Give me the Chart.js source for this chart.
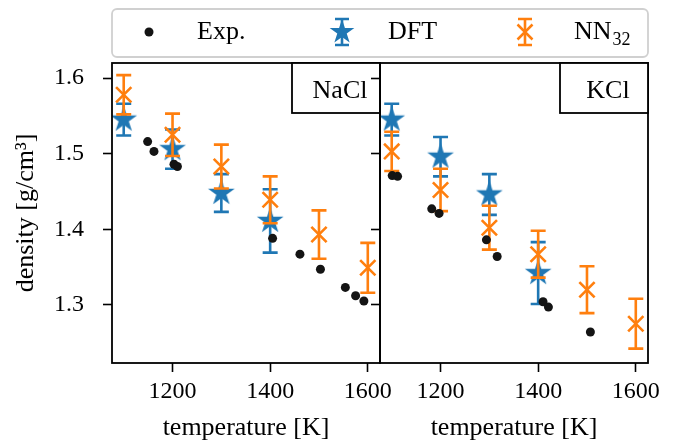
<!DOCTYPE html>
<html lang="en">
  <head>
    <meta charset="UTF-8" />
    <title>Density vs temperature</title>
    <script src="https://cdn.jsdelivr.net/npm/chart.js"></script>
    <style>
      body { margin: 0; background: #fff; }
      .wrap { position: relative; width: 678px; height: 444px; }
      .wrap canvas { position: absolute; left: 0; top: 0; }
    </style>
  </head>
  <body>
    <div class="wrap">
      <canvas id="nacl" width="678" height="444"></canvas>
      <canvas id="kcl" width="678" height="444"></canvas>
    </div>

    <script>
      "use strict";
      // NaCl
      const naclExpT = [1149, 1162, 1203, 1210, 1405, 1461, 1503, 1554, 1575, 1592];
      const naclExpRho = [1.516, 1.503, 1.486, 1.483, 1.388, 1.367, 1.347, 1.323, 1.312, 1.305];
      const naclDftT = [1100, 1200, 1300, 1400];
      const naclDftRho = [1.545, 1.506, 1.448, 1.411];
      const naclDftErr = [0.021, 0.026, 0.025, 0.042];
      const naclNnT = [1100, 1200, 1300, 1400, 1500, 1600];
      const naclNnRho = [1.578, 1.525, 1.483, 1.439, 1.393, 1.349];
      const naclNnErr = [0.026, 0.028, 0.029, 0.031, 0.032, 0.033];

      // KCl
      const kclExpT = [1101, 1112, 1182, 1197, 1294, 1316, 1410, 1421, 1507];
      const kclExpRho = [1.471, 1.470, 1.427, 1.421, 1.386, 1.364, 1.304, 1.297, 1.264];
      const kclDftT = [1100, 1200, 1300, 1400];
      const kclDftRho = [1.545, 1.496, 1.446, 1.342];
      const kclDftErr = [0.021, 0.026, 0.027, 0.041];
      const kclNnT = [1100, 1200, 1300, 1400, 1500, 1600];
      const kclNnRho = [1.503, 1.452, 1.402, 1.367, 1.320, 1.275];
      const kclNnErr = [0.026, 0.028, 0.029, 0.031, 0.031, 0.033];

      const xTicks = [1200, 1400, 1600];
      const yTicks = [1.3, 1.4, 1.5, 1.6];

      const FONT = "'Liberation Serif', 'Times New Roman', serif";
      const BLUE = "#1f77b4";
      const ORANGE = "#ff7f0e";
      const DARK = "#141414";

      Chart.defaults.font.family = FONT;
      Chart.defaults.color = "#000";

      function pts(xs, ys) {
        return xs.map((x, i) => ({ x: x, y: ys[i] }));
      }

      // filled 5-point star, like matplotlib's "*" marker
      function makeStar(R, color) {
        const c = document.createElement("canvas");
        const s = Math.ceil(2 * R + 2);
        c.width = s;
        c.height = s;
        const g = c.getContext("2d");
        g.fillStyle = color;
        g.beginPath();
        for (let k = 0; k < 10; k++) {
          const r = k % 2 ? R * 0.382 : R;
          const a = -Math.PI / 2 + (k * Math.PI) / 5;
          g.lineTo(s / 2 + r * Math.cos(a), s / 2 + r * Math.sin(a));
        }
        g.closePath();
        g.fill();
        return c;
      }
      const starImg = makeStar(14, BLUE);
      const legendStar = makeStar(13, BLUE);

      function errBar(ctx, x, y1, y2, cap) {
        ctx.beginPath();
        ctx.moveTo(x, y1);
        ctx.lineTo(x, y2);
        ctx.moveTo(x - cap, y1);
        ctx.lineTo(x + cap, y1);
        ctx.moveTo(x - cap, y2);
        ctx.lineTo(x + cap, y2);
        ctx.stroke();
      }

      const errorBars = {
        id: "errorBars",
        beforeDatasetDraw(chart, args) {
          const ds = chart.data.datasets[args.index];
          if (!ds.errors) return;
          const xs = chart.scales.x;
          const ys = chart.scales.y;
          const ctx = chart.ctx;
          const a = chart.chartArea;
          ctx.save();
          ctx.beginPath();
          ctx.rect(a.left, a.top, a.right - a.left, a.bottom - a.top);
          ctx.clip();
          ctx.strokeStyle = ds.errColor;
          ctx.lineWidth = 2.6;
          ds.data.forEach((p, i) => {
            const px = xs.getPixelForValue(p.x);
            errBar(ctx, px, ys.getPixelForValue(p.y + ds.errors[i]), ys.getPixelForValue(p.y - ds.errors[i]), 7.5);
          });
          ctx.restore();
        },
      };

      const frame = {
        id: "frame",
        afterDatasetsDraw(chart, args, opts) {
          const { ctx, chartArea: a } = chart;
          ctx.save();
          ctx.lineWidth = 1.8;
          ctx.strokeStyle = "#000";
          ctx.strokeRect(a.left, a.top, a.right - a.left, a.bottom - a.top);
          const bw = 88, bh = 50;
          ctx.fillStyle = "#fff";
          ctx.fillRect(a.right - bw, a.top, bw, bh);
          ctx.strokeRect(a.right - bw, a.top, bw, bh);
          ctx.fillStyle = "#000";
          ctx.font = "26px " + FONT;
          ctx.textAlign = "center";
          ctx.textBaseline = "middle";
          ctx.fillText(opts.text, a.right - 40, a.top + 28);
          ctx.restore();
        },
      };

      const legendBox = {
        id: "legendBox",
        afterDraw(chart) {
          const ctx = chart.ctx;
          const cy = 32;
          ctx.save();
          ctx.beginPath();
          ctx.roundRect(112, 9, 536, 48, 5);
          ctx.fillStyle = "rgba(255,255,255,0.8)";
          ctx.fill();
          ctx.lineWidth = 1.8;
          ctx.strokeStyle = "#d0d0d0";
          ctx.stroke();

          // Exp.
          ctx.fillStyle = DARK;
          ctx.beginPath();
          ctx.arc(149, cy, 4.5, 0, Math.PI * 2);
          ctx.fill();
          // DFT
          ctx.strokeStyle = BLUE;
          ctx.lineWidth = 2.6;
          errBar(ctx, 342, cy - 13, cy + 13, 7);
          ctx.drawImage(legendStar, 342 - legendStar.width / 2, cy - legendStar.height / 2);
          // NN32
          ctx.strokeStyle = ORANGE;
          errBar(ctx, 525, cy - 13, cy + 13, 7);
          ctx.lineWidth = 2.5;
          ctx.beginPath();
          ctx.moveTo(525 - 7.5, cy - 7.5);
          ctx.lineTo(525 + 7.5, cy + 7.5);
          ctx.moveTo(525 + 7.5, cy - 7.5);
          ctx.lineTo(525 - 7.5, cy + 7.5);
          ctx.stroke();

          ctx.fillStyle = "#000";
          ctx.font = "26px " + FONT;
          ctx.textBaseline = "middle";
          ctx.textAlign = "left";
          ctx.fillText("Exp.", 197, cy);
          ctx.fillText("DFT", 388, cy);
          ctx.fillText("NN", 574, cy);
          const w = ctx.measureText("NN").width;
          ctx.font = "18px " + FONT;
          ctx.fillText("32", 574 + w + 1, cy + 8);
          ctx.restore();
        },
      };

      function makeChart(id, d, left) {
        const ctx = document.getElementById(id).getContext("2d");
        return new Chart(ctx, {
          type: "scatter",
          data: {
            datasets: [
              {
                label: "Exp.",
                data: pts(d.expT, d.expRho),
                pointStyle: "circle",
                pointRadius: 4.5,
                backgroundColor: DARK,
                borderWidth: 0,
                order: 0,
              },
              {
                label: "NN32",
                data: pts(d.nnT, d.nnRho),
                errors: d.nnErr,
                errColor: ORANGE,
                pointStyle: "crossRot",
                pointRadius: 10.8,
                borderColor: ORANGE,
                borderWidth: 2.6,
                order: 1,
              },
              {
                label: "DFT",
                data: pts(d.dftT, d.dftRho),
                errors: d.dftErr,
                errColor: BLUE,
                pointStyle: starImg,
                pointRadius: 14,
                order: 2,
              },
            ],
          },
          options: {
            responsive: false,
            animation: false,
            events: [],
            layout: {
              padding: left
                ? { left: 0, right: 298, top: 63, bottom: 0 }
                : { left: 371, right: 30, top: 63, bottom: 0 },
            },
            scales: {
              x: {
                type: "linear",
                min: 1076,
                max: 1625,
                afterBuildTicks: (s) => { s.ticks = xTicks.map((v) => ({ value: v })); },
                afterFit: (s) => { s.height = 81; },
                ticks: {
                  font: { size: 24 },
                  padding: 5,
                  maxRotation: 0,
                  autoSkip: false,
                  callback: (v) => String(v),
                },
                grid: {
                  drawOnChartArea: false,
                  drawTicks: true,
                  tickLength: 9,
                  tickWidth: 1.6,
                  tickColor: "#000",
                },
                border: { display: false },
                title: {
                  display: true,
                  text: "temperature [K]",
                  font: { size: 26 },
                  padding: { top: 0, bottom: 0 },
                },
              },
              y: {
                type: "linear",
                min: 1.223,
                max: 1.62,
                afterBuildTicks: (s) => { s.ticks = yTicks.map((v) => ({ value: v })); },
                afterFit: (s) => { s.width = left ? 112 : 9; },
                ticks: {
                  font: { size: 24 },
                  padding: 19,
                  callback: (v) => (left ? v.toFixed(1) : ""),
                },
                grid: {
                  drawOnChartArea: false,
                  drawTicks: true,
                  tickLength: 9,
                  tickWidth: 1.6,
                  tickColor: "#000",
                },
                border: { display: false },
                title: {
                  display: left,
                  text: "density [g/cm³]",
                  font: { size: 26 },
                  padding: { top: 11, bottom: 0 },
                },
              },
            },
            plugins: {
              legend: { display: false },
              tooltip: { enabled: false },
              frame: { text: d.name },
            },
          },
          plugins: left ? [errorBars, frame, legendBox] : [errorBars, frame],
        });
      }

      makeChart("nacl", {
        name: "NaCl",
        expT: naclExpT, expRho: naclExpRho,
        dftT: naclDftT, dftRho: naclDftRho, dftErr: naclDftErr,
        nnT: naclNnT, nnRho: naclNnRho, nnErr: naclNnErr,
      }, true);

      makeChart("kcl", {
        name: "KCl",
        expT: kclExpT, expRho: kclExpRho,
        dftT: kclDftT, dftRho: kclDftRho, dftErr: kclDftErr,
        nnT: kclNnT, nnRho: kclNnRho, nnErr: kclNnErr,
      }, false);
    </script>
  </body>
</html>
